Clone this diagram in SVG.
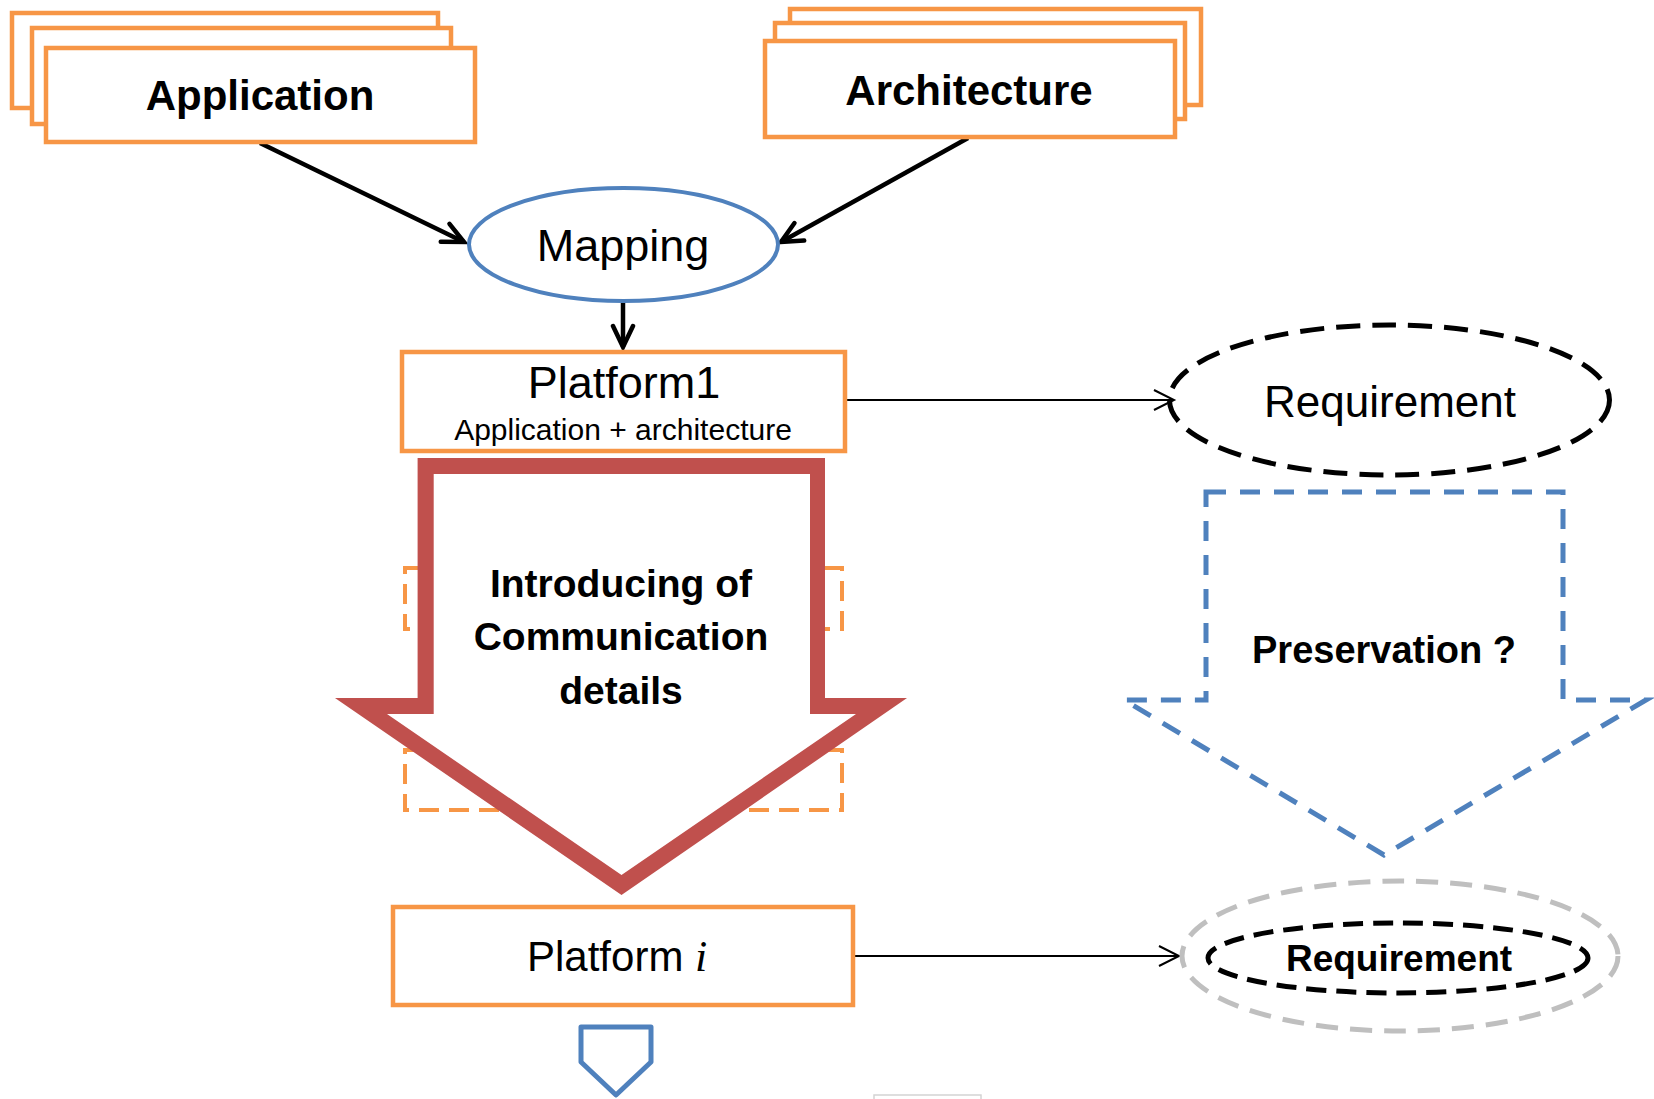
<svg xmlns="http://www.w3.org/2000/svg" width="1654" height="1099" viewBox="0 0 1654 1099">
  <defs>
    <style>
      .box { fill: #ffffff; stroke: #F79646; stroke-width: 4.5; }
      .lbl { font-family: "Liberation Sans", Arial, sans-serif; fill: #000000; text-anchor: middle; }
      .bold { font-weight: bold; }
      .edge-thick { stroke: #000000; stroke-width: 4.5; fill: none; }
      .edge-thin { stroke: #000000; stroke-width: 2; fill: none; }
      .dash-orange { fill: none; stroke: #F79646; stroke-width: 4; stroke-dasharray: 20 10; }
    </style>
    <marker id="head-thick" markerUnits="userSpaceOnUse" viewBox="-26 -14 30 28" refX="0" refY="0" markerWidth="30" markerHeight="28" orient="auto">
      <path d="M-21,-10 L0,0 L-21,10" fill="none" stroke="#000000" stroke-width="4.5" stroke-linecap="round" stroke-linejoin="miter"/>
    </marker>
    <marker id="head-thin" markerUnits="userSpaceOnUse" viewBox="-24 -12 28 24" refX="0" refY="0" markerWidth="28" markerHeight="24" orient="auto">
      <path d="M-20,-10 L0,0 L-20,10" fill="none" stroke="#000000" stroke-width="2"/>
    </marker>
  </defs>

  <rect width="1654" height="1099" fill="#ffffff"/>

  <!-- dashed orange frames sitting behind the big red arrow -->
  <g id="hidden-frames">
    <rect class="dash-orange" x="405" y="568" width="437" height="61"/>
    <rect class="dash-orange" x="405" y="750" width="437" height="60"/>
  </g>

  <!-- connectors -->
  <g id="connectors">
    <line class="edge-thick" x1="260" y1="143" x2="464" y2="242" marker-end="url(#head-thick)"/>
    <line class="edge-thick" x1="968" y1="138" x2="781" y2="242" marker-end="url(#head-thick)"/>
    <line class="edge-thick" x1="623" y1="303" x2="623" y2="347" marker-end="url(#head-thick)"/>
    <line class="edge-thin" x1="847" y1="400" x2="1174" y2="400" marker-end="url(#head-thin)"/>
    <line class="edge-thin" x1="855" y1="956" x2="1179" y2="956" marker-end="url(#head-thin)"/>
  </g>

  <!-- stacked application boxes -->
  <g id="application">
    <rect class="box" x="12" y="13" width="426" height="95"/>
    <rect class="box" x="32" y="28" width="419" height="96"/>
    <rect class="box" x="46" y="48" width="429" height="94"/>
    <text class="lbl bold" x="260" y="110" font-size="42">Application</text>
  </g>

  <!-- stacked architecture boxes -->
  <g id="architecture">
    <rect class="box" x="790" y="9" width="411" height="96"/>
    <rect class="box" x="775" y="23" width="410" height="96"/>
    <rect class="box" x="765" y="41" width="410" height="96"/>
    <text class="lbl bold" x="969" y="105" font-size="42">Architecture</text>
  </g>

  <g id="mapping">
    <ellipse cx="623.5" cy="244.5" rx="154.5" ry="56.5" fill="#ffffff" stroke="#4F81BD" stroke-width="4"/>
    <text class="lbl" x="623" y="261" font-size="45">Mapping</text>
  </g>

  <g id="platform1">
    <rect class="box" x="402" y="352" width="443" height="99"/>
    <text class="lbl" x="624" y="398" font-size="45">Platform1</text>
    <text class="lbl" x="623" y="440" font-size="30">Application + architecture</text>
  </g>

  <g id="requirement1">
    <ellipse cx="1389.5" cy="400" rx="220" ry="75" fill="none" stroke="#000000" stroke-width="5" stroke-dasharray="24 12"/>
    <text class="lbl" x="1390" y="417" font-size="44">Requirement</text>
  </g>

  <!-- big red block arrow -->
  <g id="communication-step">
    <polygon points="417.6,458 825,458 825,698 907,698 621.5,895 335,698 417.6,698" fill="#C0504D"/>
    <polygon points="433.7,474 810,474 810,714 856,714 621.5,875 387,714 433.7,714" fill="#ffffff"/>
    <text class="lbl bold" font-size="39"><tspan x="621" y="597">Introducing of</tspan><tspan x="621" y="650">Communication</tspan><tspan x="621" y="704">details</tspan></text>
  </g>

  <!-- dashed blue block arrow -->
  <g id="preservation">
    <polygon points="1206,492 1563,492 1563,700 1646,700 1384,855 1124,700 1206,700" fill="none" stroke="#4F81BD" stroke-width="5" stroke-dasharray="20 14"/>
    <text class="lbl bold" x="1384" y="663" font-size="38">Preservation ?</text>
  </g>

  <g id="platform-i">
    <rect class="box" x="393" y="907" width="460" height="98"/>
    <text x="527" y="971" font-family="'Liberation Sans', Arial, sans-serif" font-size="42" fill="#000000">Platform <tspan font-family="'Liberation Serif', 'Times New Roman', serif" font-style="italic" font-size="44">i</tspan></text>
  </g>

  <g id="requirement-i">
    <ellipse cx="1400" cy="956" rx="218" ry="75" fill="none" stroke="#BFBFBF" stroke-width="5" stroke-dasharray="22 12"/>
    <ellipse cx="1398" cy="958" rx="190" ry="35" fill="none" stroke="#000000" stroke-width="5" stroke-dasharray="20 10"/>
    <text class="lbl bold" x="1399" y="971" font-size="37">Requirement</text>
  </g>

  <!-- small blue arrow leading on -->
  <g id="next-step">
    <polygon points="581,1027 651,1027 651,1062 616,1095 581,1062" fill="#ffffff" stroke="#4F81BD" stroke-width="5" stroke-linejoin="round"/>
  </g>

  <g id="edge-mark">
    <rect x="874" y="1095" width="107" height="10" fill="none" stroke="#d4d4d4" stroke-width="1.5"/>
  </g>
</svg>
